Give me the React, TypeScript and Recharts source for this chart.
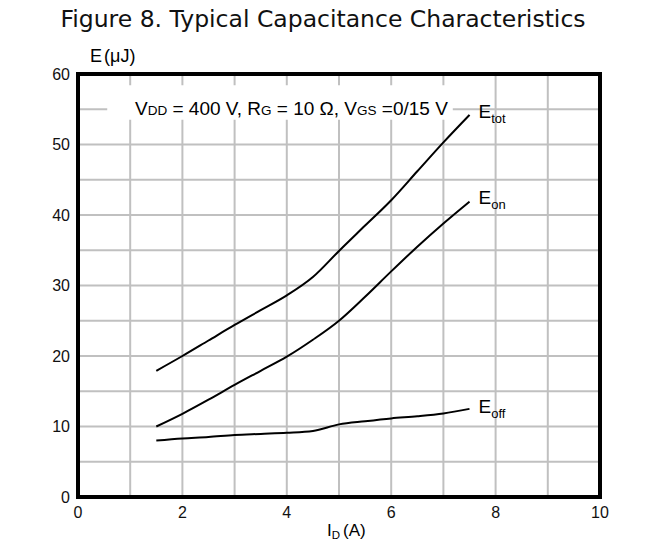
import { LineChart, Line, XAxis, YAxis, CartesianGrid, ReferenceArea } from 'recharts';

// Drain current (A) sampled along each curve
const CURRENT = [1.5, 2, 2.5, 3, 3.5, 4, 4.5, 5, 5.5, 6, 6.5, 7, 7.5];
const E_TOT = [17.9, 20.0, 22.2, 24.4, 26.5, 28.6, 31.2, 34.9, 38.5, 42.1, 46.2, 50.3, 54.2];
const E_ON = [10.0, 11.8, 13.8, 15.9, 17.9, 19.9, 22.3, 25.0, 28.4, 32.0, 35.5, 38.8, 41.9];
const E_OFF = [8.0, 8.3, 8.5, 8.8, 8.95, 9.1, 9.35, 10.3, 10.75, 11.15, 11.45, 11.85, 12.5];

const X_TICKS = [0, 1, 2, 3, 4, 5, 6, 7, 8, 9, 10];
const Y_TICKS = [0, 5, 10, 15, 20, 25, 30, 35, 40, 45, 50, 55, 60];

const SERIES = [
  { key: 'tot', sub: 'tot', dy: 3 },
  { key: 'on', sub: 'on', dy: 2 },
  { key: 'off', sub: 'off', dy: 4 },
];

const rows = CURRENT.map((x, i) => ({ x, tot: E_TOT[i], on: E_ON[i], off: E_OFF[i] }));

const FONT = '"Liberation Sans", Arial, sans-serif';

function endLabel(sub: string, dy: number) {
  return (props: any) => {
    const { x, y, index } = props;
    if (index !== CURRENT.length - 1) return null;
    return (
      <text x={x + 9} y={y + dy} fontFamily={FONT} fontSize={19} fill="#000">
        E
        <tspan fontSize={13} dy={5}>{sub}</tspan>
      </text>
    );
  };
}

export default function App() {
  return (
    <div style={{ position: 'absolute', left: 0, top: 0, width: 665, height: 548, background: '#fff' }}>
      <LineChart width={665} height={548} data={rows} margin={{ top: 74, right: 65, bottom: 21, left: 38 }}>
        <CartesianGrid stroke="#c0c0c0" strokeWidth={2} />
        <XAxis
          type="number"
          dataKey="x"
          domain={[0, 10]}
          ticks={X_TICKS}
          interval={0}
          tickFormatter={(v: number) => (v % 2 === 0 ? String(v) : '')}
          axisLine={false}
          tickLine={false}
          tickMargin={4}
          height={30}
          tick={{ fontSize: 16, fill: '#111', fontFamily: FONT }}
        />
        <YAxis
          type="number"
          domain={[0, 60]}
          ticks={Y_TICKS}
          interval={0}
          tickFormatter={(v: number) => (v % 10 === 0 ? String(v) : '')}
          axisLine={false}
          tickLine={false}
          width={40}
          tick={{ fontSize: 16, fill: '#111', fontFamily: FONT }}
        />
        <ReferenceArea x1={0.56} x2={7.18} y1={53.5} y2={58.4} fill="#fff" fillOpacity={1} stroke="none" />
        {SERIES.map((s) => (
          <Line
            key={s.key}
            type="monotone"
            dataKey={s.key}
            stroke="#000"
            strokeWidth={2}
            dot={false}
            isAnimationActive={false}
            label={endLabel(s.sub, s.dy)}
          />
        ))}
        <ReferenceArea x1={0} x2={10} y1={0} y2={60} fill="none" fillOpacity={0} stroke="#000" strokeWidth={4} />
      </LineChart>
      <svg
        width={665}
        height={548}
        style={{ position: 'absolute', left: 0, top: 0, pointerEvents: 'none' }}
      >
        <text
          x={323}
          y={27}
          textAnchor="middle"
          fontFamily='"DejaVu Sans", Verdana, sans-serif'
          fontSize={23.5}
          fill="#111"
        >
          Figure 8. Typical Capacitance Characteristics
        </text>
        <text x={90} y={62} fontFamily={FONT} fontSize={18} fill="#000">
          E<tspan dx={2}>(μJ)</tspan>
        </text>
        <text x={327} y={536} fontFamily={FONT} fontSize={17} fill="#000">
          I<tspan fontSize={11.5} dy={3}>D</tspan>
          <tspan dy={-3} dx={3}>(A)</tspan>
        </text>
        <text x={135} y={115} fontFamily={FONT} fontSize={19} fill="#000">
          V<tspan fontSize={13.5}>DD</tspan> = 400 V, R<tspan fontSize={13.5}>G</tspan> = 10 Ω, V
          <tspan fontSize={13.5}>GS</tspan> =0/15 V
        </text>
      </svg>
    </div>
  );
}
